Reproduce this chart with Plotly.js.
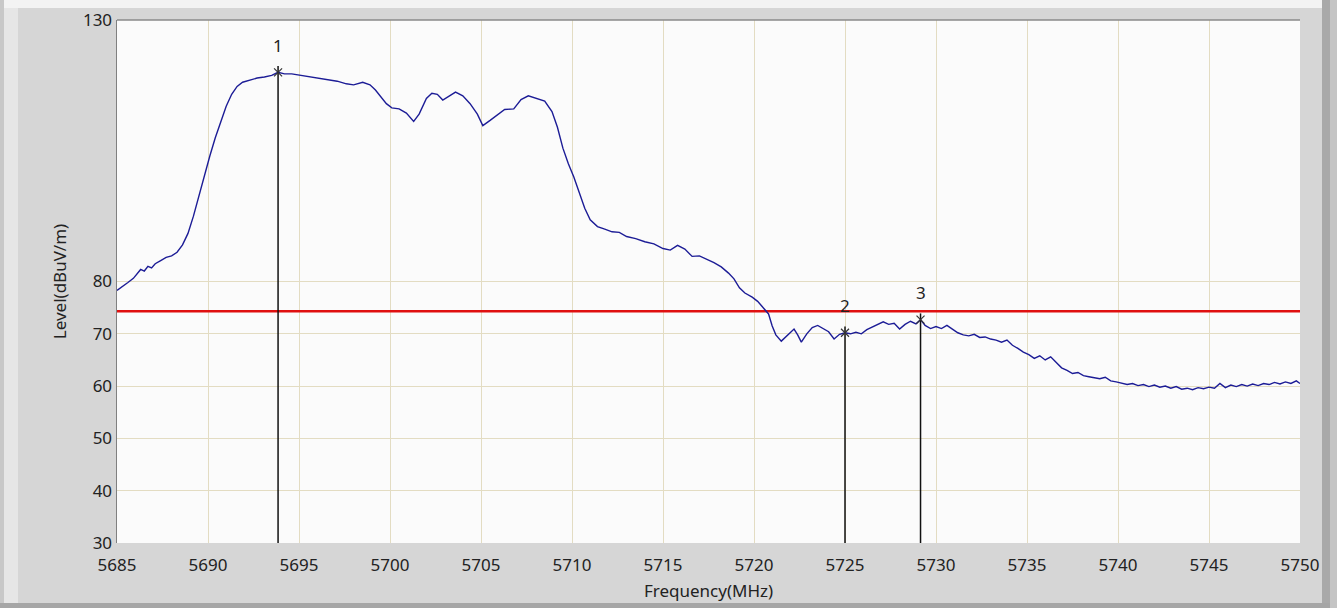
<!DOCTYPE html>
<html>
<head>
<meta charset="utf-8">
<script src="https://cdn.plot.ly/plotly-3.0.1.min.js"></script>
<style>
html,body{margin:0;padding:0;background:#d6d6d6;}
#chart{width:1337px;height:608px;}
</style>
</head>
<body>
<div id="chart"></div>
<script>
// Spectrum trace (MHz, dBuV/m)
const freq = [
5685.0,5685.3,5685.6,5685.9,5686.1,5686.3,5686.5,5686.7,5686.9,5687.1,5687.4,5687.7,5688.0,5688.3,5688.6,5688.9,
5689.2,5689.5,5689.8,5690.1,5690.4,5690.7,5691.0,5691.3,5691.6,5691.9,5692.3,5692.7,5693.1,5693.5,5693.85,5694.2,
5694.6,5695.1,5695.6,5696.1,5696.6,5697.1,5697.6,5698.0,5698.5,5698.9,5699.2,5699.5,5699.8,5700.1,5700.5,5700.9,
5701.3,5701.6,5702.0,5702.3,5702.6,5702.9,5703.2,5703.6,5704.0,5704.4,5704.8,5705.1,5705.5,5705.9,5706.3,5706.8,
5707.2,5707.6,5708.0,5708.5,5708.9,5709.2,5709.5,5709.8,5710.1,5710.4,5710.7,5711.0,5711.4,5711.8,5712.2,5712.6,
5713.0,5713.5,5714.0,5714.5,5715.0,5715.4,5715.8,5716.2,5716.6,5717.0,5717.4,5717.8,5718.2,5718.6,5718.9,5719.2,
5719.5,5719.9,5720.2,5720.5,5720.8,5721.0,5721.2,5721.5,5721.8,5722.0,5722.2,5722.4,5722.6,5722.9,5723.2,5723.5,
5723.8,5724.1,5724.4,5724.7,5725.0,5725.3,5725.6,5725.9,5726.2,5726.5,5726.8,5727.1,5727.4,5727.7,5728.0,5728.3,
5728.6,5728.9,5729.15,5729.4,5729.7,5730.0,5730.3,5730.6,5730.9,5731.2,5731.5,5731.8,5732.1,5732.4,5732.7,5733.0,
5733.3,5733.6,5733.9,5734.2,5734.5,5734.8,5735.1,5735.4,5735.7,5736.0,5736.3,5736.6,5736.9,5737.2,5737.5,5737.8,
5738.1,5738.4,5738.7,5739.0,5739.3,5739.6,5739.9,5740.2,5740.5,5740.8,5741.1,5741.4,5741.7,5742.0,5742.3,5742.6,
5742.9,5743.2,5743.5,5743.8,5744.1,5744.4,5744.7,5745.0,5745.3,5745.6,5745.9,5746.2,5746.5,5746.8,5747.1,5747.4,
5747.7,5748.0,5748.3,5748.6,5748.9,5749.2,5749.5,5749.8,5750.0
];
const level = [
78.3,79.0,79.8,80.6,81.5,82.3,82.0,82.9,82.6,83.4,84.0,84.6,84.9,85.6,87.0,89.2,
92.5,96.5,100.0,104.0,107.5,110.5,113.5,115.8,117.3,118.1,118.5,118.9,119.1,119.4,120.0,119.7,
119.7,119.4,119.2,118.9,118.6,118.3,117.8,117.6,118.1,117.6,116.6,115.3,114.0,113.2,113.0,112.2,
110.6,112.0,115.0,116.0,115.8,114.7,115.4,116.2,115.5,114.0,112.0,109.8,110.8,111.8,112.9,113.0,
114.8,115.5,115.0,114.5,112.5,109.5,105.5,102.5,100.0,97.0,94.0,91.8,90.5,90.0,89.5,89.4,
88.6,88.2,87.6,87.2,86.3,86.0,86.9,86.2,84.8,84.9,84.3,83.6,82.8,81.6,80.5,78.8,
77.8,77.0,76.2,75.0,73.8,71.5,69.8,68.6,69.6,70.4,70.9,69.8,68.4,70.0,71.2,71.6,
71.0,70.4,69.0,69.9,70.2,70.0,70.3,70.0,70.8,71.3,71.7,72.3,71.8,72.0,70.9,71.8,
72.4,71.9,72.7,71.6,71.0,71.4,71.0,71.6,70.9,70.2,69.8,69.6,69.9,69.3,69.4,69.0,
68.8,68.4,68.8,67.8,67.2,66.5,66.0,65.3,65.8,65.0,65.6,64.5,63.5,63.0,62.4,62.6,
62.0,61.8,61.6,61.4,61.7,61.0,60.8,60.6,60.3,60.5,60.1,60.3,59.9,60.2,59.8,60.0,
59.6,59.9,59.4,59.6,59.3,59.7,59.5,59.8,59.6,60.5,59.7,60.2,59.9,60.3,60.0,60.4,
60.1,60.5,60.3,60.7,60.4,60.8,60.5,61.0,60.5
];
const limitLevel = 74.3;
const markerFreqs = [5693.85, 5725.0, 5729.15];
const markerLevels = [120.0, 70.2, 72.7];
const markerLabels = ["1", "2", "3"];
const xTicks = [5685,5690,5695,5700,5705,5710,5715,5720,5725,5730,5735,5740,5745,5750];
const yTicks = [30,40,50,60,70,80,130];

const yMin = 30, yMax = 130, xMin = 5685, xMax = 5750;

const traces = [];
traces.push({
  x: [xMin, xMax], y: [limitLevel, limitLevel], mode: 'lines',
  line: {color: '#e01010', width: 2.6}, hoverinfo: 'skip'
});
traces.push({
  x: freq, y: level, mode: 'lines',
  line: {color: '#1c1c96', width: 1.4}, hoverinfo: 'skip'
});
markerFreqs.forEach((f, i) => {
  traces.push({
    x: [f, f], y: [yMin, markerLevels[i] + 1.2], mode: 'lines',
    line: {color: '#111111', width: 1.5}, hoverinfo: 'skip'
  });
});
traces.push({
  x: markerFreqs, y: markerLevels, mode: 'markers',
  marker: {symbol: 'x-thin', size: 8, line: {color: '#333333', width: 1.2}},
  hoverinfo: 'skip'
});

const annotations = markerLabels.map((t, i) => ({
  x: markerFreqs[i], y: markerLevels[i], xref: 'x', yref: 'y',
  text: t, showarrow: false, yshift: 27,
  font: {family: 'Noto Sans, sans-serif', size: 17, color: '#222222'}
}));

// frame decorations (paper coordinates relative to plot area 117..1300 x 20..543)
const px = v => (v - 117) / 1183;
const py = v => (543 - v) / 523;
const shapes = [
  {type:'rect', xref:'paper', yref:'paper', x0:px(0), x1:px(1337), y0:py(0), y1:py(8), fillcolor:'#f3f3f3', line:{width:0}, layer:'below'},
  {type:'rect', xref:'paper', yref:'paper', x0:px(0), x1:px(4), y0:py(0), y1:py(608), fillcolor:'#c8c8c8', line:{width:0}, layer:'below'},
  {type:'rect', xref:'paper', yref:'paper', x0:px(4), x1:px(18), y0:py(8), y1:py(604), fillcolor:'#e6e6e6', line:{width:0}, layer:'below'},
  {type:'rect', xref:'paper', yref:'paper', x0:px(1322), x1:px(1330), y0:py(0), y1:py(608), fillcolor:'#a9a9a9', line:{width:0}, layer:'below'},
  {type:'rect', xref:'paper', yref:'paper', x0:px(1330), x1:px(1337), y0:py(0), y1:py(608), fillcolor:'#c4c4c4', line:{width:0}, layer:'below'},
  {type:'rect', xref:'paper', yref:'paper', x0:px(0), x1:px(1330), y0:py(603), y1:py(608), fillcolor:'#a6a6a6', line:{width:0}, layer:'below'},
  {type:'line', xref:'paper', yref:'paper', x0:0, x1:1, y0:1, y1:1, line:{color:'#8a8a8a', width:1.5}}
];

const layout = {
  width: 1337, height: 608,
  margin: {l: 117, r: 37, t: 20, b: 65},
  paper_bgcolor: '#d6d6d6',
  plot_bgcolor: '#fbfbfb',
  showlegend: false,
  hovermode: false,
  font: {family: 'Noto Sans, sans-serif', color: '#222222'},
  xaxis: {
    range: [xMin, xMax], tickvals: xTicks, ticktext: xTicks.map(String),
    showgrid: true, gridcolor: '#e3dcc2', gridwidth: 1,
    zeroline: false, showline: false, ticks: '',
    ticklabelstandoff: 10,
    tickfont: {size: 17, color: '#222222'},
    title: {text: 'Frequency(MHz)', font: {size: 17, color: '#222222'}, standoff: 10},
    automargin: false
  },
  yaxis: {
    range: [yMin, yMax], tickvals: yTicks, ticktext: yTicks.map(String),
    showgrid: true, gridcolor: '#e3dcc2', gridwidth: 1,
    zeroline: false, showline: true, linecolor: '#808080', linewidth: 1.5, ticks: '',
    tickfont: {size: 17, color: '#222222'},
    title: {text: 'Level(dBuV/m)', font: {size: 17, color: '#222222'}, standoff: 12},
    automargin: false
  },
  shapes: shapes,
  annotations: annotations
};

Plotly.newPlot('chart', traces, layout, {staticPlot: true, displayModeBar: false});
</script>
</body>
</html>
